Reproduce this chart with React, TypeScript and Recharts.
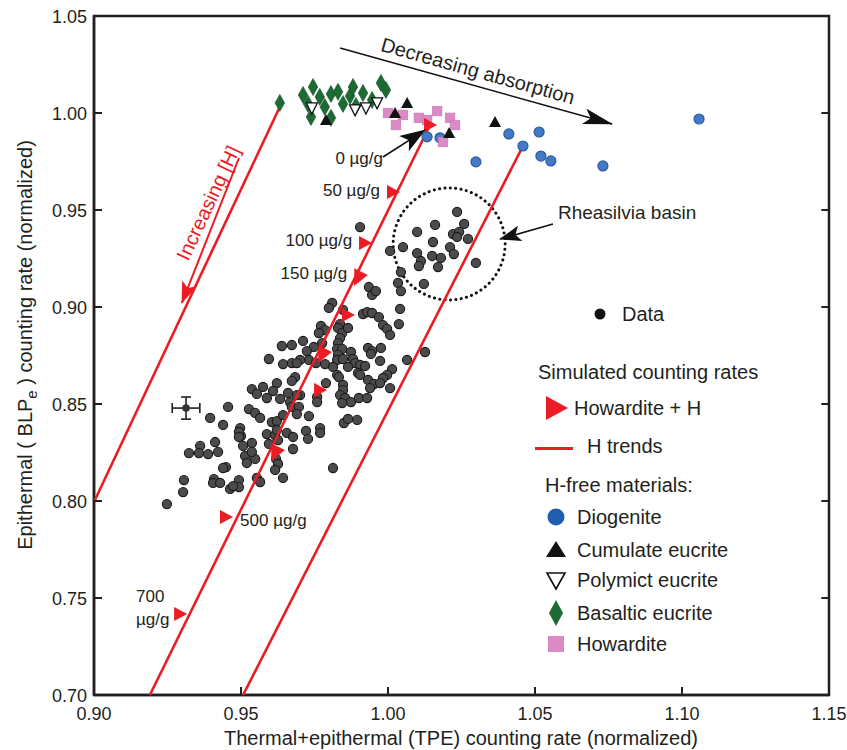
import React from "react";
import {
  ScatterChart,
  Scatter,
  XAxis,
  YAxis,
  ReferenceLine,
  ReferenceArea,
  ReferenceDot,
  ErrorBar,
  Legend,
} from "recharts";

const FONT = '"Liberation Sans", Arial, Helvetica, sans-serif';
const INK = "#231f20";
const RED = "#ec1c24";

const xTicks = [0.9, 0.95, 1.0, 1.05, 1.1, 1.15];
const yTicks = [0.7, 0.75, 0.8, 0.85, 0.9, 0.95, 1.0, 1.05];

// Dawn GRaND data, Rheasilvia region
const rheasilviaPts = [
  [1.0235, 0.949], [1.016, 0.9423], [1.0259, 0.9428], [1.0099, 0.9387], [1.0221, 0.9376],
  [1.0242, 0.9387], [1.0235, 0.9361], [1.0272, 0.9351], [1.0153, 0.9335], [1.0051, 0.9309],
  [1.0007, 0.9289], [1.0211, 0.9309], [1.0099, 0.9278], [1.0224, 0.9273], [1.015, 0.9263],
  [1.018, 0.9253], [1.0112, 0.9237], [1.0105, 0.9211], [1.017, 0.9206], [1.0299, 0.9227],
  [1.0044, 0.918], [1.0034, 0.9124], [1.0044, 0.9082], [1.0122, 0.9119],
];

// Dawn GRaND data, upper right part of the cloud
const dawnUpper = [
  [0.9905, 0.9412], [0.9935, 0.9103], [0.9946, 0.9062], [0.9959, 0.9082],
  [0.981, 0.9021], [0.9799, 0.8995], [1.0041, 0.899], [0.9847, 0.8985], [0.9915, 0.8964],
  [0.9929, 0.8974], [0.9946, 0.8969], [0.9969, 0.8948], [0.9983, 0.8907], [0.9997, 0.8887],
  [1.0007, 0.8856], [1.0037, 0.8912], [0.9772, 0.8902], [0.9786, 0.8881], [0.9765, 0.8866],
  [0.9837, 0.8912], [0.983, 0.8892], [0.9844, 0.8866], [0.9864, 0.8892], [0.9837, 0.884],
  [0.983, 0.8814], [0.9711, 0.8825], [0.9748, 0.8794], [0.9724, 0.8773], [0.9776, 0.8814],
  [0.9827, 0.8784], [0.9844, 0.8784], [0.9874, 0.8768], [0.983, 0.8753], [0.9932, 0.8789],
  [0.9946, 0.8773], [0.9976, 0.8789], [0.9942, 0.8758], [0.9731, 0.8727], [0.9701, 0.8727],
  [0.9755, 0.8711], [0.9786, 0.8706], [0.9827, 0.8727], [0.9847, 0.8732], [0.9881, 0.8732],
  [0.9888, 0.8711], [0.9905, 0.8701], [0.9922, 0.8696], [0.9864, 0.8691], [0.9973, 0.8722],
  [1.0065, 0.8727], [0.9813, 0.8691], [0.9827, 0.865], [0.9833, 0.8639], [0.9898, 0.866],
  [0.9905, 0.865], [1.0014, 0.868], [0.9997, 0.865], [0.9983, 0.8634], [0.9932, 0.8624],
  [1.0126, 0.8768], [0.9789, 0.8608], [0.9847, 0.8598], [0.9847, 0.8572], [0.9952, 0.8603],
  [0.9973, 0.8608], [1.0007, 0.8582], [0.9939, 0.8582], [0.9837, 0.8546], [0.9854, 0.8531],
  [0.9874, 0.851], [0.9844, 0.8505], [0.9901, 0.8531], [0.9929, 0.8531], [0.9759, 0.8536],
  [0.9759, 0.851], [0.9701, 0.8546],
];

// Dawn GRaND data, middle left part of the cloud
const dawnMiddle = [
  [0.9639, 0.8799], [0.9673, 0.8804], [0.9595, 0.8732], [0.9643, 0.8706], [0.9673, 0.8711],
  [0.969, 0.8711], [0.9684, 0.8639], [0.9673, 0.8619], [0.9622, 0.8608], [0.9537, 0.8577],
  [0.9575, 0.8588], [0.9609, 0.8567], [0.9554, 0.8552], [0.9588, 0.8531], [0.9633, 0.8526],
  [0.966, 0.8557], [0.969, 0.8546], [0.9667, 0.851], [0.9673, 0.8485], [0.9697, 0.8485],
  [0.9456, 0.8485], [0.9527, 0.8474],
];

// Dawn GRaND data, lower part of the cloud
const dawnLower = [
  [0.9548, 0.8454], [0.9565, 0.8428], [0.9605, 0.8407], [0.9622, 0.8412], [0.9643, 0.8443],
  [0.969, 0.8448], [0.9731, 0.8438], [0.9497, 0.8376], [0.9537, 0.8299], [0.9507, 0.8284],
  [0.95, 0.8335], [0.9588, 0.8345], [0.9616, 0.834], [0.9622, 0.8366], [0.9656, 0.8351],
  [0.9677, 0.833], [0.9721, 0.8361], [0.9769, 0.8376], [0.9728, 0.832], [0.9769, 0.8351],
  [0.9677, 0.8268], [0.9514, 0.8232], [0.9548, 0.8217], [0.952, 0.8196], [0.9619, 0.8217],
  [0.9626, 0.8191], [0.9616, 0.816], [0.9813, 0.817], [0.9643, 0.8119], [0.9554, 0.8119],
  [0.9395, 0.8428], [0.9439, 0.8392], [0.9493, 0.8356], [0.9493, 0.833], [0.9412, 0.8304],
  [0.9361, 0.8284], [0.9357, 0.8247], [0.9323, 0.8247], [0.9388, 0.8242], [0.9422, 0.8253],
  [0.9449, 0.8175], [0.9439, 0.817], [0.9306, 0.8108], [0.9303, 0.8046], [0.9408, 0.8113],
  [0.9405, 0.8093], [0.9429, 0.8093], [0.9493, 0.8108], [0.9493, 0.8072], [0.9463, 0.8062],
  [0.9473, 0.8077], [0.9248, 0.7984], [0.9537, 0.8253], [0.9565, 0.8098], [0.9595, 0.8294],
  [0.9626, 0.8314], [0.985, 0.8402], [0.9864, 0.8423], [0.9895, 0.8418],
];

const errorPoint = [{ x: 0.9313, y: 0.8479, ex: 0.0047, ey: 0.0057 }];

// H-free materials
const diogenite = [
  [1.0133, 0.9877], [1.0177, 0.9872], [1.0299, 0.9748], [1.0411, 0.9892], [1.0459, 0.983],
  [1.0514, 0.9902], [1.052, 0.9778], [1.0554, 0.9753], [1.0731, 0.9727], [1.1058, 0.9969],
];
const cumulateEucrite = [
  [0.9789, 0.9964], [1.0065, 1.0052], [1.0024, 1.0], [1.0208, 0.9897], [1.0364, 0.9954],
];
const polymictEucrite = [
  [0.9741, 1.0026], [0.9888, 1.0016], [0.9925, 1.0026], [0.9963, 1.0052],
];
const basalticEucrite = [
  [0.9632, 1.0052], [0.9711, 1.0093], [0.9745, 1.0134], [0.9728, 1.0047], [0.9738, 0.998],
  [0.9768, 1.0083], [0.9785, 1.0031], [0.9806, 1.0098], [0.983, 1.0109], [0.9806, 0.9975],
  [0.9847, 1.0047], [0.9871, 1.0088], [0.9881, 1.0134], [0.9891, 1.0036], [0.9915, 1.0103],
  [0.9946, 1.0067], [0.9976, 1.0155], [0.9993, 1.0119],
];
const howardite = [
  [1.0, 1.0], [1.0027, 0.9938], [1.0051, 0.999], [1.0105, 0.9975], [1.0133, 0.9964],
  [1.0167, 1.001], [1.0211, 0.9975], [1.0228, 0.9938], [1.0187, 0.9851],
];

// simulated howardite + H (0 ... 700 ug/g)
const howarditeH = [
  [1.0143, 0.9938], [1.0017, 0.9593], [0.9922, 0.933], [0.9864, 0.8959],
  [0.9769, 0.8572], [0.9449, 0.7918], [0.9293, 0.7418],
];
// direction arrows drawn on the middle H trend
const trendArrows = [[0.9898, 0.915], [0.9776, 0.8753], [0.9616, 0.8247]];

// H trend lines
const trendA = [[0.9, 0.7995], [0.9633, 1.0035]];
const trendB = [[0.919, 0.7], [1.0143, 0.9938]];
const trendC = [[0.9507, 0.7], [1.0459, 0.983]];

// annotation arrows
const increasingArrow = [[0.9493, 0.9768], [0.9299, 0.9021]];
const absorptionArrow = [[0.9837, 1.0335], [1.0762, 0.9943]];
const zeroArrow = [[0.9983, 0.9773], [1.0126, 0.9912]];
const rheaArrow = [[1.0561, 0.9428], [1.0381, 0.935]];

const rheaCircle = { x: 1.0208, y: 0.9325 };

// text annotations
const doseTagsLeft = [
  { x: 0.9983, y: 0.9768, label: "0 µg/g" },
  { x: 0.9973, y: 0.9603, label: "50 µg/g" },
  { x: 0.9878, y: 0.9345, label: "100 µg/g" },
  { x: 0.9861, y: 0.9175, label: "150 µg/g" },
];
const doseTagsRight = [
  { x: 0.9497, y: 0.7902, label: "500 µg/g" },
  { x: 0.9143, y: 0.751, label: "700" },
  { x: 0.9143, y: 0.7387, label: "µg/g" },
];
const absorptionText = [{ x: 1.0306, y: 1.0217, label: "Decreasing absorption" }];
const increasingText = [{ x: 0.9388, y: 0.9536, label: "Increasing [H]" }];
const rheaText = [{ x: 1.0578, y: 0.9485, label: "Rheasilvia basin" }];

const pts = (a: number[][]) => a.map(([x, y]) => ({ x, y }));

const GrayDot = (p: any) => (
  <circle cx={p.cx} cy={p.cy} r={4.6} fill="#4b4b4d" stroke="#1a1a1a" strokeWidth={1.1} />
);
const BlueDot = (p: any) => (
  <circle cx={p.cx} cy={p.cy} r={5} fill="#4479c4" stroke="#2a5ba6" strokeWidth={1.2} />
);
const UpTri = (p: any) => (
  <path d={`M${p.cx},${p.cy - 6}L${p.cx + 6},${p.cy + 5}L${p.cx - 6},${p.cy + 5}Z`} fill="#111" />
);
const DownTri = (p: any) => (
  <path
    d={`M${p.cx - 5.5},${p.cy - 5}L${p.cx + 5.5},${p.cy - 5}L${p.cx},${p.cy + 6}Z`}
    fill="#fff"
    stroke="#111"
    strokeWidth={1.3}
  />
);
const Diamond = (p: any) => (
  <path
    d={`M${p.cx},${p.cy - 8.5}L${p.cx + 4.8},${p.cy}L${p.cx},${p.cy + 8.5}L${p.cx - 4.8},${p.cy}Z`}
    fill="#1d6a35"
    stroke="#165228"
    strokeWidth={0.6}
  />
);
const Square = (p: any) => (
  <rect x={p.cx - 4.8} y={p.cy - 4.8} width={9.6} height={9.6} fill="#dc8ac6" stroke="#c972b4" strokeWidth={0.6} />
);
const RightTri = (p: any) => (
  <path d={`M${p.cx - 6},${p.cy - 7}L${p.cx + 7},${p.cy}L${p.cx - 6},${p.cy + 7}Z`} fill={RED} />
);
const TrendHead = (p: any) => (
  <path
    d="M9,0L-7,-7.5L-7,7.5Z"
    transform={`translate(${p.cx},${p.cy}) rotate(116)`}
    fill={RED}
  />
);
const None = () => <g />;

const makeText =
  (anchor: string, size: number, color: string, angle = 0) =>
  (p: any) => (
    <text
      x={p.cx}
      y={p.cy}
      textAnchor={anchor}
      dominantBaseline="central"
      fontSize={size}
      fill={color}
      fontFamily={FONT}
      transform={angle ? `rotate(${angle} ${p.cx} ${p.cy})` : undefined}
    >
      {p.payload.label}
    </text>
  );

const XTick = (p: any) => (
  <g>
    <line x1={p.x} x2={p.x} y1={p.y} y2={p.y - 8} stroke={INK} strokeWidth={2} />
    <text x={p.x} y={p.y + 25} textAnchor="middle" fontSize={18} fill={INK} fontFamily={FONT}>
      {Number(p.payload.value).toFixed(2)}
    </text>
  </g>
);
const YTick = (p: any) => (
  <g>
    <line x1={p.x} x2={p.x + 8} y1={p.y} y2={p.y} stroke={INK} strokeWidth={2} />
    <text x={p.x - 7} y={p.y + 6.5} textAnchor="end" fontSize={18} fill={INK} fontFamily={FONT}>
      {Number(p.payload.value).toFixed(2)}
    </text>
  </g>
);

const LegendBox = () => {
  const txt = (left: number, cy: number, s: string) => (
    <div
      style={{
        position: "absolute",
        left,
        top: cy - 12,
        height: 24,
        lineHeight: "24px",
        fontSize: 20,
        whiteSpace: "nowrap",
      }}
    >
      {s}
    </div>
  );
  const icon = (cy: number, el: React.ReactNode, left = 12) => (
    <svg style={{ position: "absolute", left, top: cy - 14 }} width={28} height={28} viewBox="-14 -14 28 28">
      {el}
    </svg>
  );
  return (
    <div style={{ position: "relative", width: 300, height: 360, fontFamily: FONT, color: INK }}>
      {icon(14, <circle r={5.5} fill="#111" />, 56)}
      {txt(92, 14, "Data")}
      {txt(8, 72, "Simulated counting rates")}
      {icon(108, <path d="M-10,-12L12,0L-10,12Z" fill={RED} />)}
      {txt(44, 108, "Howardite + H")}
      <div style={{ position: "absolute", left: 5, top: 147, width: 38, height: 2.5, background: RED }} />
      {txt(57, 146, "H trends")}
      {txt(15, 185, "H-free materials:")}
      {icon(217, <circle r={8.5} fill="#1f5fb0" />)}
      {txt(47, 217, "Diogenite")}
      {icon(250, <path d="M0,-9L10,7L-10,7Z" fill="#111" />)}
      {txt(47, 250, "Cumulate eucrite")}
      {icon(280, <path d="M-9,-7L9,-7L0,9Z" fill="#fff" stroke="#111" strokeWidth={1.6} />)}
      {txt(47, 280, "Polymict eucrite")}
      {icon(313, <path d="M0,-13L7,0L0,13L-7,0Z" fill="#1d6a35" />)}
      {txt(47, 313, "Basaltic eucrite")}
      {icon(344, <rect x={-8} y={-8} width={16} height={16} fill="#dc8ac6" />)}
      {txt(47, 344, "Howardite")}
    </div>
  );
};

export default function App() {
  return (
    <div style={{ position: "absolute", left: 0, top: 0, width: 847, height: 750, background: "#fff" }}>
      <svg width={0} height={0} style={{ position: "absolute" }}>
        <defs>
          <marker id="hdAbs" viewBox="0 0 30 16" refX={29} refY={8} markerWidth={30} markerHeight={16} markerUnits="userSpaceOnUse" orient="auto">
            <path d="M0,0L30,8L0,16L7,8Z" fill="#111" />
          </marker>
          <marker id="hdZero" viewBox="0 0 26 18" refX={25} refY={9} markerWidth={26} markerHeight={18} markerUnits="userSpaceOnUse" orient="auto">
            <path d="M0,0L26,9L0,18L6,9Z" fill="#111" />
          </marker>
          <marker id="hdRhea" viewBox="0 0 22 16" refX={21} refY={8} markerWidth={22} markerHeight={16} markerUnits="userSpaceOnUse" orient="auto">
            <path d="M0,0L22,8L0,16L5,8Z" fill="#111" />
          </marker>
          <marker id="hdRed" viewBox="0 0 22 16" refX={21} refY={8} markerWidth={22} markerHeight={16} markerUnits="userSpaceOnUse" orient="auto">
            <path d="M0,0L22,8L0,16L5,8Z" fill={RED} />
          </marker>
        </defs>
      </svg>
      <ScatterChart width={847} height={750} margin={{ top: 16, right: 18, bottom: 25, left: 34 }}>
        <XAxis
          type="number"
          dataKey="x"
          domain={[0.9, 1.15]}
          ticks={xTicks}
          interval={0}
          allowDataOverflow
          height={30}
          tickSize={0}
          tickMargin={0}
          tickLine={false}
          tick={<XTick />}
          axisLine={{ stroke: INK, strokeWidth: 2.5 }}
          label={{
            content: () => (
              <text x={461} y={745} textAnchor="middle" fontSize={20} fill={INK} fontFamily={FONT}>
                Thermal+epithermal (TPE) counting rate (normalized)
              </text>
            ),
          }}
        />
        <YAxis
          type="number"
          dataKey="y"
          domain={[0.7, 1.05]}
          ticks={yTicks}
          interval={0}
          allowDataOverflow
          width={60}
          tickSize={0}
          tickMargin={0}
          tickLine={false}
          tick={<YTick />}
          axisLine={{ stroke: INK, strokeWidth: 2.5 }}
          label={{
            content: () => (
              <text
                x={25}
                y={345}
                textAnchor="middle"
                fontSize={20}
                fill={INK}
                fontFamily={FONT}
                transform="rotate(-90 25 345)"
                dominantBaseline="central"
              >
                Epithermal ( BLP
                <tspan fontSize={15} dy={6}>e</tspan>
                <tspan dy={-6}> ) counting rate (normalized)</tspan>
              </text>
            ),
          }}
        />
        <ReferenceArea x1={0.9} x2={1.15} y1={0.7} y2={1.05} fill="none" stroke={INK} strokeWidth={2.5} />
        {yTicks.slice(1, -1).map((v) => (
          <ReferenceLine key={"ry" + v} segment={[{ x: 1.15, y: v }, { x: 1.1474, y: v }]} stroke={INK} strokeWidth={2} />
        ))}

        <ReferenceDot
          x={rheaCircle.x}
          y={rheaCircle.y}
          r={56}
          fill="none"
          stroke="#111"
          strokeWidth={3}
          strokeDasharray="0.1 5.3"
          strokeLinecap="round"
        />

        <Scatter data={pts(rheasilviaPts)} shape={GrayDot} isAnimationActive={false} />
        <Scatter data={pts(dawnUpper)} shape={GrayDot} isAnimationActive={false} />
        <Scatter data={pts(dawnMiddle)} shape={GrayDot} isAnimationActive={false} />
        <Scatter data={pts(dawnLower)} shape={GrayDot} isAnimationActive={false} />
        <Scatter
          data={errorPoint}
          shape={(p: any) => <circle cx={p.cx} cy={p.cy} r={3.8} fill="#333" />}
          isAnimationActive={false}
        >
          <ErrorBar dataKey="ex" direction="x" width={5} stroke={INK} strokeWidth={1.6} />
          <ErrorBar dataKey="ey" direction="y" width={5} stroke={INK} strokeWidth={1.6} />
        </Scatter>

        <Scatter data={pts(trendA)} line={{ stroke: RED, strokeWidth: 2.6 }} shape={None} isAnimationActive={false} />
        <Scatter data={pts(trendB)} line={{ stroke: RED, strokeWidth: 2.6 }} shape={None} isAnimationActive={false} />
        <Scatter data={pts(trendC)} line={{ stroke: RED, strokeWidth: 2.6 }} shape={None} isAnimationActive={false} />
        <Scatter
          data={pts(increasingArrow)}
          line={{ stroke: RED, strokeWidth: 2, markerEnd: "url(#hdRed)" }}
          shape={None}
          isAnimationActive={false}
        />

        <Scatter data={pts(diogenite)} shape={BlueDot} isAnimationActive={false} />
        <Scatter data={pts(basalticEucrite)} shape={Diamond} isAnimationActive={false} />
        <Scatter data={pts(polymictEucrite)} shape={DownTri} isAnimationActive={false} />
        <Scatter data={pts(howardite)} shape={Square} isAnimationActive={false} />
        <Scatter data={pts(cumulateEucrite)} shape={UpTri} isAnimationActive={false} />

        <Scatter data={pts(howarditeH)} shape={RightTri} isAnimationActive={false} />
        <Scatter data={pts(trendArrows)} shape={TrendHead} isAnimationActive={false} />

        <Scatter
          data={pts(absorptionArrow)}
          line={{ stroke: "#111", strokeWidth: 1.6, markerEnd: "url(#hdAbs)" }}
          shape={None}
          isAnimationActive={false}
        />
        <Scatter
          data={pts(zeroArrow)}
          line={{ stroke: "#111", strokeWidth: 1.6, markerEnd: "url(#hdZero)" }}
          shape={None}
          isAnimationActive={false}
        />
        <Scatter
          data={pts(rheaArrow)}
          line={{ stroke: "#111", strokeWidth: 1.6, markerEnd: "url(#hdRhea)" }}
          shape={None}
          isAnimationActive={false}
        />

        <Scatter data={doseTagsLeft} shape={makeText("end", 17, INK)} isAnimationActive={false} />
        <Scatter data={doseTagsRight} shape={makeText("start", 17, INK)} isAnimationActive={false} />
        <Scatter data={absorptionText} shape={makeText("middle", 20, INK, 15.6)} isAnimationActive={false} />
        <Scatter data={increasingText} shape={makeText("middle", 20, RED, -65)} isAnimationActive={false} />
        <Scatter data={rheaText} shape={makeText("start", 19, INK)} isAnimationActive={false} />

        <Legend
          layout="horizontal"
          verticalAlign="middle"
          align="center"
          content={<LegendBox />}
          wrapperStyle={{ left: 530, top: 300, width: 300, height: 360 }}
        />
      </ScatterChart>
    </div>
  );
}
